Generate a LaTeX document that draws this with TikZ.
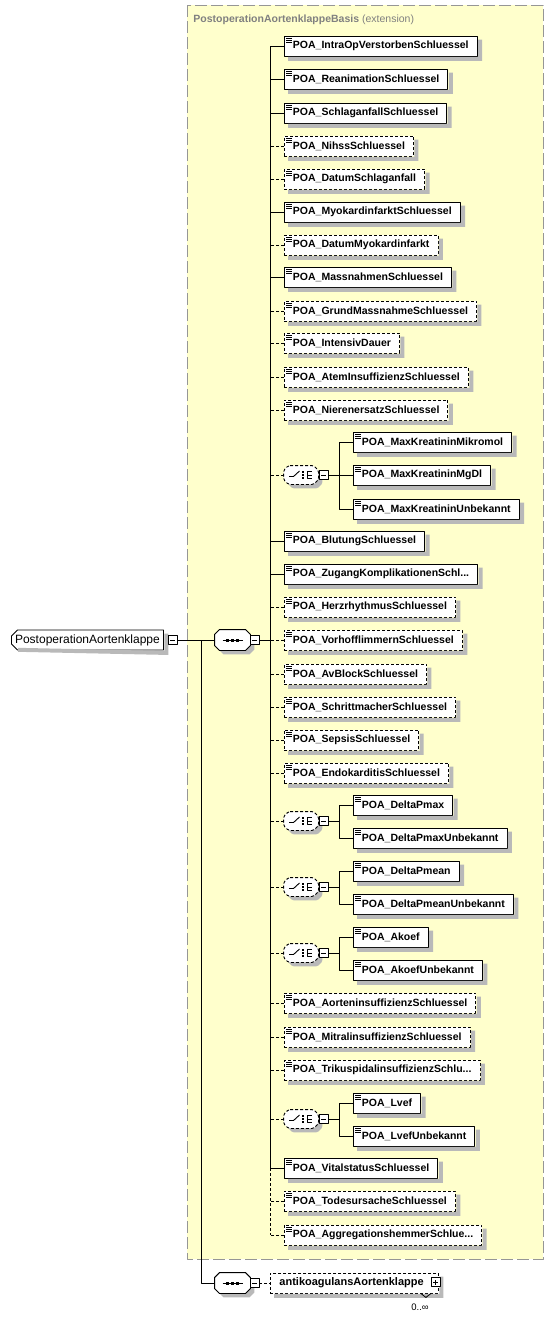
\documentclass[tikz,border=0pt]{standalone}
\usepackage{fontspec}
\setmainfont{Liberation Sans}
\usetikzlibrary{shapes.misc,shadows}
\definecolor{basisfill}{RGB}{255,255,204}
\definecolor{basisline}{RGB}{150,150,150}
\definecolor{basistext}{RGB}{128,128,128}
\definecolor{shadowgray}{RGB}{185,185,185}
\newcommand{\poafont}{\fontsize{10.5}{12}\selectfont\bfseries}
\newcommand{\rootfont}{\fontsize{12}{14}\selectfont}
\newcommand{\cut}{...}
% grey L-shaped shadow on the right and below a box node
\newcommand{\boxshade}[1]{\fill[shadowgray] ([shift={(.5pt,-4pt)}]#1.north east) -- ([shift={(4.5pt,-4pt)}]#1.north east) -- ([shift={(4.5pt,-4.5pt)}]#1.south east) -- ([shift={(4pt,-4.5pt)}]#1.south west) -- ([shift={(4pt,-.5pt)}]#1.south west) -- ([shift={(.5pt,-.5pt)}]#1.south east) -- cycle;}
% octagon frame round an (invisible) compositor node
\newcommand{\compoframe}[2][]{\draw[fill=white,drop shadow={shadow xshift=4pt,shadow yshift=-4pt,fill=shadowgray,opacity=1},#1] ([xshift=5pt]#2.north west) -- ([xshift=-5pt]#2.north east) -- ([yshift=-5pt]#2.north east) -- ([yshift=5pt]#2.south east) -- ([xshift=-5pt]#2.south east) -- ([xshift=5pt]#2.south west) -- ([yshift=5pt]#2.south west) -- ([yshift=-5pt]#2.north west) -- cycle;}
\newcommand{\seqicon}[1]{\draw[line width=1pt] ([xshift=-10pt]#1.center) -- ([xshift=10pt]#1.center);
	\foreach \d in {-6.5,-1.5,3.5}{\fill ([shift={(\d pt,-1.5pt)}]#1.center) rectangle ++(3pt,3pt);}}
\newcommand{\choiceicon}[1]{\draw ([shift={(-12pt,-1.5pt)}]#1.center) -- ([shift={(-7.5pt,-1.5pt)}]#1.center) -- ([shift={(-1.5pt,4pt)}]#1.center);
	\foreach \v in {1.8,-1.2,-4.2}{\fill ([shift={(1pt,\v pt)}]#1.center) rectangle ++(2.4pt,2.4pt);}
	\draw ([shift={(10.5pt,3.8pt)}]#1.center) -- ([shift={(6pt,3.8pt)}]#1.center) -- ([shift={(6pt,-3.8pt)}]#1.center) -- ([shift={(10.5pt,-3.8pt)}]#1.center) ([shift={(6pt,0pt)}]#1.center) -- ([shift={(10.5pt,0pt)}]#1.center);}
\tikzset{
	opt/.style={dash pattern=on 3pt off 2pt},
	elem/.style={draw,fill=white,anchor=west,minimum height=20pt,inner xsep=8.5pt,inner ysep=0pt,font=\poafont,
		path picture={\foreach \k in {2,4,6}{\draw[solid,line width=.7pt] ([shift={(2pt,-\k pt)}]path picture bounding box.north west) -- ++(6pt,0pt);}}},
	pmbase/.style={draw,solid,fill=white,minimum size=9pt,inner sep=0pt},
	minusbox/.style={pmbase,path picture={\draw ([xshift=-2.5pt]path picture bounding box.center) -- ([xshift=2.5pt]path picture bounding box.center);}},
	plusbox/.style={pmbase,path picture={\draw ([xshift=-2.5pt]path picture bounding box.center) -- ([xshift=2.5pt]path picture bounding box.center) ([yshift=-2.5pt]path picture bounding box.center) -- ([yshift=2.5pt]path picture bounding box.center);}},
	seqbox/.style={minimum width=35pt,minimum height=20pt,inner sep=0pt},
	choicebox/.style={minimum width=34pt,minimum height=18pt,inner sep=0pt},
}
\begin{document}
\begin{tikzpicture}[x=1pt,y=-1pt,line width=.9pt,line join=round]
	\useasboundingbox (0,0) rectangle (553,1318);
	% extension frame
	\draw[basisline,fill=basisfill,line width=1pt,dash pattern=on 12pt off 4pt] (187,5) rectangle (543,1259);
	\node[anchor=base west,text=basistext,font=\poafont,inner sep=0pt] (basis) at (193,22.5) {PostoperationAortenklappeBasis \mdseries(extension)};
	% root and sequences
	\node[draw,fill=white,chamfered rectangle,chamfered rectangle corners={north west,south west},chamfered rectangle sep=3pt,anchor=west,minimum width=152pt,minimum height=20pt,inner sep=0pt,font=\rootfont] (root) at (11,640) {PostoperationAortenklappe};
	\boxshade{root}
	\node[minusbox] (rootpm) at (172.5,640) {};
	\node[seqbox] (seq1) at (232.5,640) {};
	\node[seqbox] (seq2) at (232.5,1283) {};
	\compoframe{seq1} \seqicon{seq1}
	\compoframe{seq2} \seqicon{seq2}
	\node[minusbox] (seq1pm) at (254.5,640) {};
	\node[minusbox] (seq2pm) at (254.5,1283) {};
	\coordinate (fork) at (201,640);
	\coordinate (trunk) at (270,640);
	\draw (rootpm.east) -- (seq1.west) (fork) |- (seq2.west) (seq1pm.east) -- (trunk);
	% elements of the first sequence
	\foreach \yy/\sty/\nm [count=\i] in {46/solid/POA\_IntraOpVerstorbenSchluessel,79/solid/POA\_ReanimationSchluessel,
		113/solid/POA\_SchlaganfallSchluessel,146/opt/POA\_NihssSchluessel,179/opt/POA\_DatumSchlaganfall,
		212/solid/POA\_MyokardinfarktSchluessel,245/opt/POA\_DatumMyokardinfarkt,277/solid/POA\_MassnahmenSchluessel,
		311/opt/POA\_GrundMassnahmeSchluessel,343/opt/POA\_IntensivDauer,377/opt/POA\_AtemInsuffizienzSchluessel,
		410/opt/POA\_NierenersatzSchluessel,541/solid/POA\_BlutungSchluessel,574/solid/POA\_ZugangKomplikationenSchl\cut,
		607/opt/POA\_HerzrhythmusSchluessel,640/opt/POA\_VorhofflimmernSchluessel,674/opt/POA\_AvBlockSchluessel,
		707/opt/POA\_SchrittmacherSchluessel,740/opt/POA\_SepsisSchluessel,773/opt/POA\_EndokarditisSchluessel,
		1003/opt/POA\_AorteninsuffizienzSchluessel,1037/opt/POA\_MitralinsuffizienzSchluessel,1070/opt/POA\_TrikuspidalinsuffizienzSchlu\cut,
		1168/solid/POA\_VitalstatusSchluessel,1201/opt/POA\_TodesursacheSchluessel,1235/opt/POA\_AggregationshemmerSchlue\cut}{
		\node[elem,\sty] (e\i) at (284,\yy) {\nm};
		\boxshade{e\i}
		\draw[\sty] (e\i.west) -- (e\i.west -| trunk);
	}
	\draw (e1.west -| trunk) -- (e24.west -| trunk);
	\draw[opt] (e24.west -| trunk) -- (e26.west -| trunk);
	% choices
	\foreach \yy [count=\j] in {475,821,887,953,1119}{
		\node[choicebox] (c\j) at (301,\yy) {};
		\compoframe[opt,rounded corners=1.5pt]{c\j} \choiceicon{c\j}
		\node[minusbox] (cm\j) at (323.5,\yy) {};
		\coordinate (cb\j) at (339,\yy);
		\draw[opt] (c\j.west) -- (c\j.west -| trunk);
		\draw (cm\j.east) -- (cb\j);
	}
	\foreach \g/\p/\yy/\nm in {1/1/442/POA\_MaxKreatininMikromol,1/2/475/POA\_MaxKreatininMgDl,1/3/509/POA\_MaxKreatininUnbekannt,
		2/1/805/POA\_DeltaPmax,2/2/838/POA\_DeltaPmaxUnbekannt,3/1/871/POA\_DeltaPmean,3/2/904/POA\_DeltaPmeanUnbekannt,
		4/1/937/POA\_Akoef,4/2/970/POA\_AkoefUnbekannt,5/1/1103/POA\_Lvef,5/2/1136/POA\_LvefUnbekannt}{
		\node[elem] (k\g-\p) at (353,\yy) {\nm};
		\boxshade{k\g-\p}
		\draw (k\g-\p.west) -- (k\g-\p.west -| cb\g) -- (cb\g);
	}
	% second sequence
	\node[draw,opt,fill=white,anchor=west,minimum height=20pt,inner xsep=9pt,inner ysep=0pt,text width=150pt,align=left,font=\fontsize{11}{13}\selectfont\bfseries] (anti) at (270,1283) {antikoagulansAortenklappe};
	\boxshade{anti}
	\node[plusbox] (antipm) at (435.5,1282) {};
	\draw[opt] (seq2pm.east) -- (anti.west);
	\draw[line width=.8pt] ([xshift=-18pt]anti.south east) -- ++(5pt,-4pt) -- ++(5pt,4pt);
	\node[font=\fontsize{9.5}{11}\selectfont,inner sep=0pt] (mult) at (420,1307) {0..∞};
\end{tikzpicture}
\end{document}
